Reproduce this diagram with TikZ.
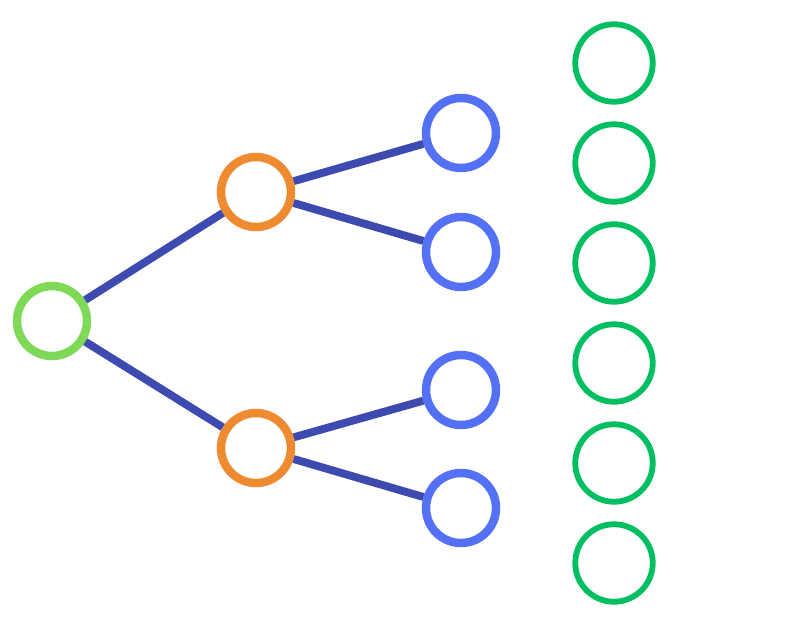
\documentclass[tikz,border=0pt]{standalone}
\usetikzlibrary{positioning}
\definecolor{rootgreen}{HTML}{7ED957}
\definecolor{midorange}{HTML}{F08A30}
\definecolor{leafblue}{HTML}{5470F5}
\definecolor{colgreen}{HTML}{00BF63}
\definecolor{edgeblue}{HTML}{3D4AB0}
\tikzset{
  knot/.style={circle, draw, line width=4.8pt, minimum size=1.4cm, inner sep=0pt},
  slot/.style={circle, draw=colgreen, line width=3.3pt, minimum size=1.55cm, inner sep=0pt},
  branch/.style={draw=edgeblue, line width=4.5pt}
}
\begin{document}
\begin{tikzpicture}[x=0.02cm, y=-0.02cm]
  \useasboundingbox (0,0) rectangle (800,639);
  % tree
  \node[knot, draw=rootgreen] (root) at (52,321) {};
  \node[knot, draw=midorange] (upper) at (256,192) {};
  \node[knot, draw=midorange] (lower) at (256,448) {};
  \node[knot, draw=leafblue] (leafa) at (461,133) {};
  \node[knot, draw=leafblue] (leafb) at (461,252) {};
  \node[knot, draw=leafblue] (leafc) at (461,390) {};
  \node[knot, draw=leafblue] (leafd) at (461,508) {};
  \draw[branch] (root) -- (upper);
  \draw[branch] (root) -- (lower);
  \draw[branch] (upper) -- (leafa);
  \draw[branch] (upper) -- (leafb);
  \draw[branch] (lower) -- (leafc);
  \draw[branch] (lower) -- (leafd);
  % column of slots
  \foreach \i in {0,...,5}
    \node[slot] (slot\i) at (614,63+100*\i) {};
\end{tikzpicture}
\end{document}
